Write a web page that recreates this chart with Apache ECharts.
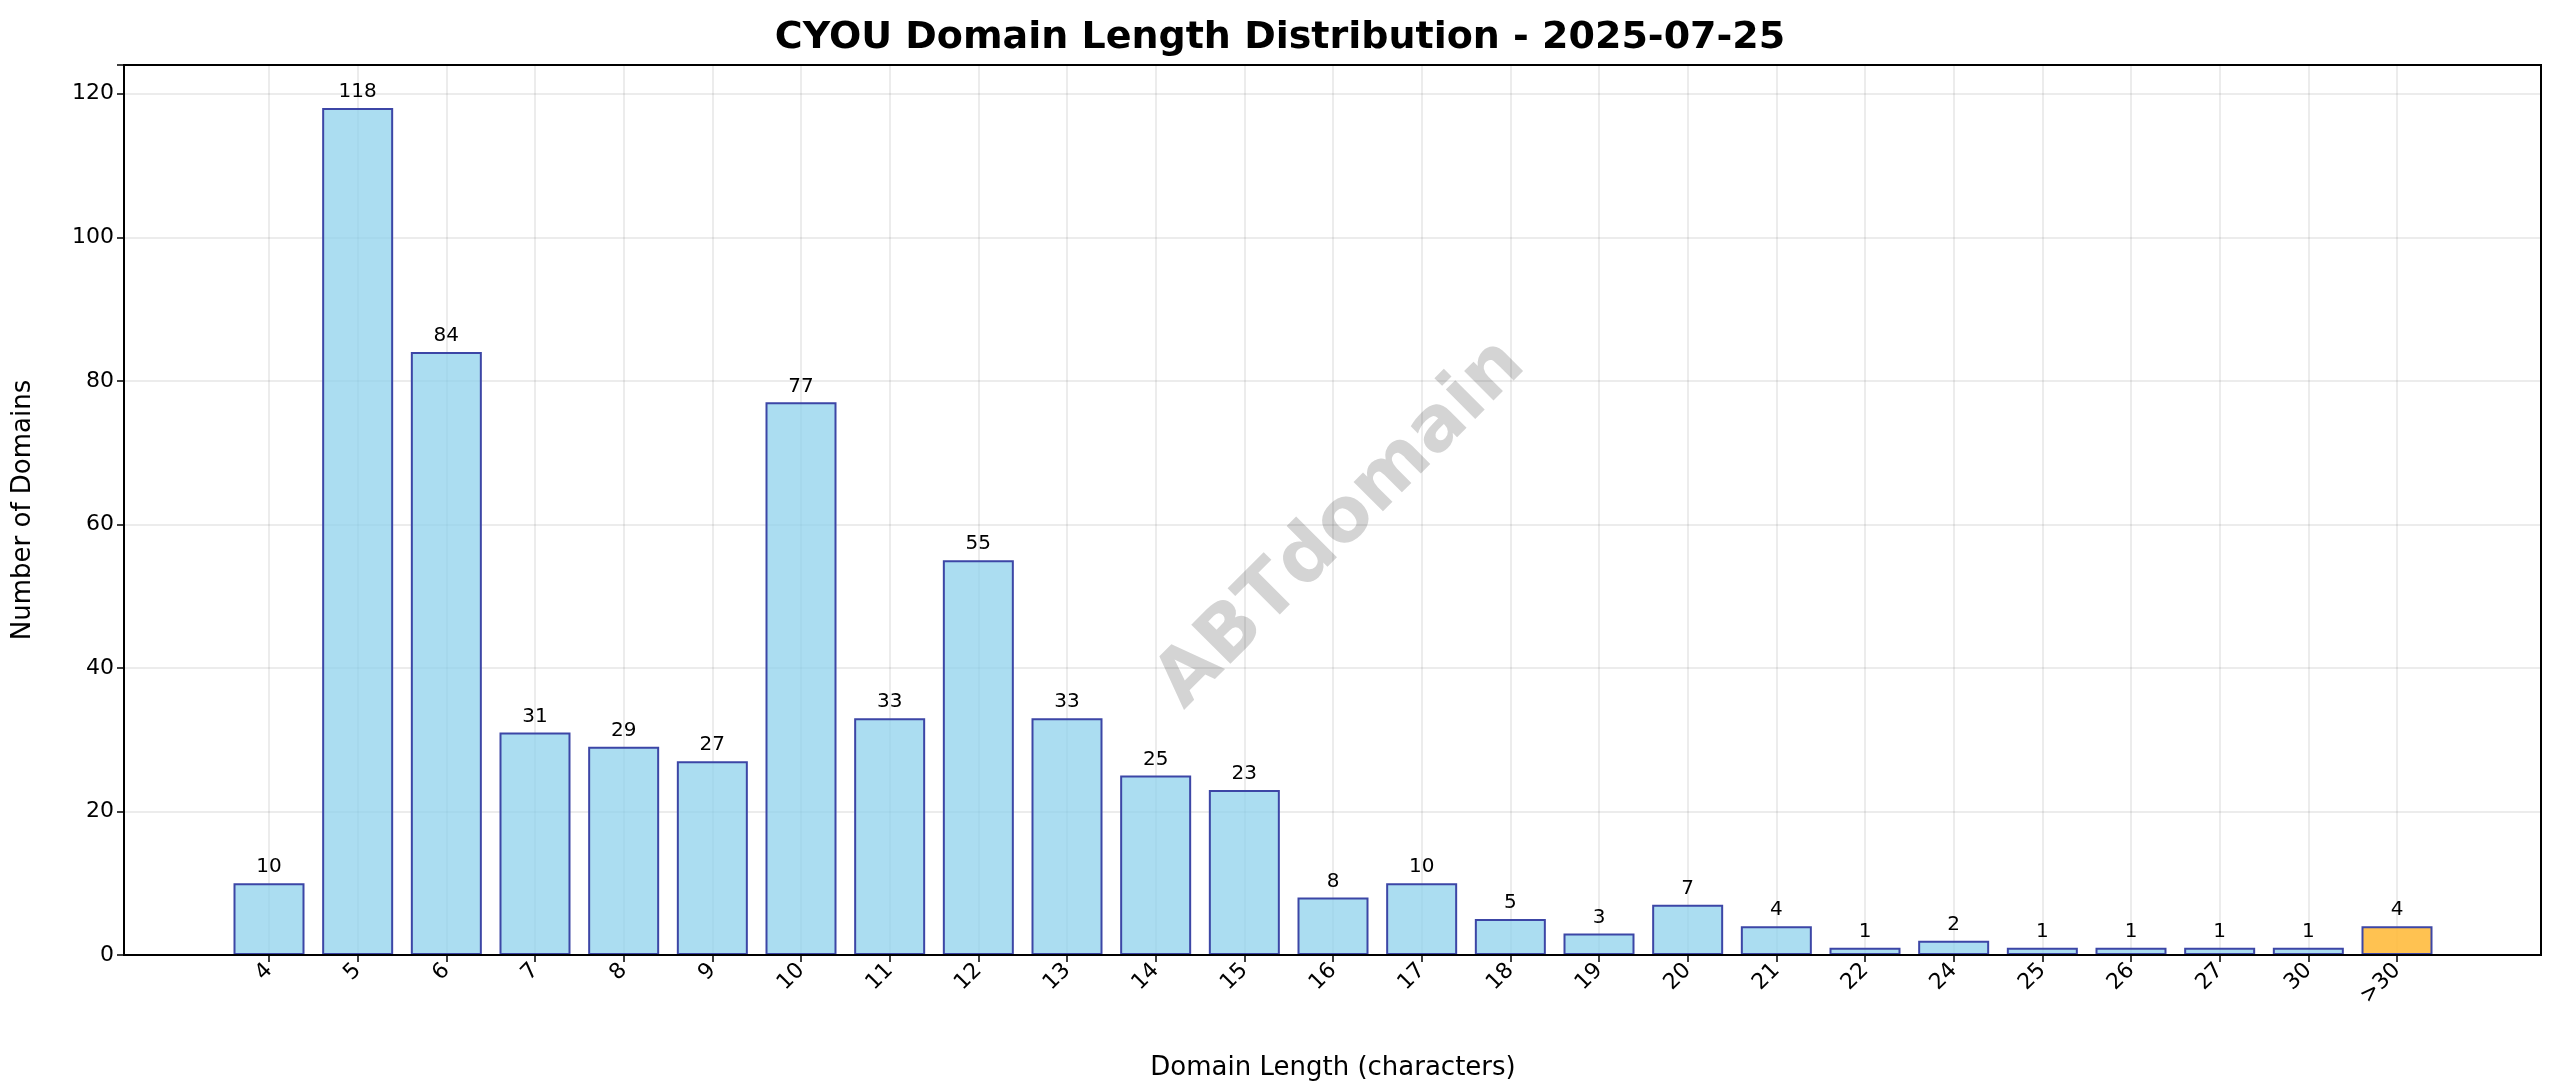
<!DOCTYPE html>
<html>
<head>
<meta charset="utf-8">
<script src="https://cdn.jsdelivr.net/npm/echarts@6/dist/echarts.min.js"></script>
<style>html,body{margin:0;padding:0;background:#fff}#container{width:2560px;height:1087px}</style>
</head>
<body>
<div id="container"></div>
<script>
var lengths = ['4', '5', '6', '7', '8', '9', '10', '11', '12', '13', '14', '15', '16', '17', '18', '19', '20', '21', '22', '24', '25', '26', '27', '30', '>30']
var counts = [10, 118, 84, 31, 29, 27, 77, 33, 55, 33, 25, 23, 8, 10, 5, 3, 7, 4, 1, 2, 1, 1, 1, 1, 4]
var yTicks = [0, 20, 40, 60, 80, 100, 120]

var barData = counts.map(function (v, i) {
    return {
        value: v,
        itemStyle: { color: lengths[i] == '>30' ? 'rgba(255,183,50,0.85)' : 'rgba(135,206,235,0.7)' }
    }
})

var myChart = echarts.init(document.getElementById('container'))
myChart.setOption({
    animation: false,
    textStyle: { fontFamily: 'DejaVu Sans' },
    title: {
        text: 'CYOU Domain Length Distribution - 2025-07-25',
        left: 'center',
        top: 14,
        textStyle: { fontSize: 38, fontWeight: 'bold', color: '#000', fontFamily: 'DejaVu Sans' }
    },
    grid: [
        { left: 269, right: 163, top: 65, bottom: 132 },
        { left: 124, right: 19, top: 65, bottom: 132 }
    ],
    graphic: [
        {
            type: 'rect', z: 10, silent: true,
            shape: { x: 124, y: 65, width: 2417, height: 890 },
            style: { fill: 'none', stroke: '#000', lineWidth: 2 }
        },
        {
            type: 'text', z: 0, left: 1143, top: 326, rotation: Math.PI / 4,
            style: {
                text: 'ABTdomain', x: 0, y: 0, align: 'center', verticalAlign: 'middle',
                fill: 'rgba(160,160,160,0.45)', font: 'bold 76px DejaVu Sans'
            }
        }
    ],
    xAxis: [{
        type: 'category',
        gridIndex: 0,
        data: lengths,
        boundaryGap: false,
        name: 'Domain Length (characters)',
        nameLocation: 'middle',
        nameGap: 100,
        nameTextStyle: { fontSize: 26, color: '#000' },
        axisLine: { show: false },
        axisTick: { show: true, length: 7, lineStyle: { color: '#000', width: 1.5 } },
        axisLabel: { rotate: 45, fontSize: 22, color: '#000', margin: 12 },
        splitLine: { show: true, lineStyle: { color: 'rgba(0,0,0,0.1)', width: 1.5 } }
    }, {
        type: 'value',
        gridIndex: 1,
        show: false,
        min: 0,
        max: 1
    }],
    yAxis: [{
        type: 'value',
        gridIndex: 0,
        min: 0,
        max: 124,
        interval: 20,
        name: 'Number of Domains',
        nameLocation: 'middle',
        nameGap: 88,
        nameTextStyle: { fontSize: 26, color: '#000' },
        offset: 145,
        axisLine: { show: false },
        axisTick: { show: true, length: 7, lineStyle: { color: '#000', width: 1.5 } },
        axisLabel: {
            fontSize: 22, color: '#000', margin: 10,
            formatter: function (v) { return yTicks.indexOf(v) >= 0 ? v : '' }
        },
        splitLine: { show: false }
    }, {
        type: 'value',
        gridIndex: 1,
        min: 0,
        max: 124,
        interval: 20,
        axisLine: { show: false },
        axisTick: { show: false },
        axisLabel: { show: false },
        splitLine: { show: true, lineStyle: { color: 'rgba(0,0,0,0.1)', width: 1.5 } }
    }],
    series: [{
        type: 'bar',
        xAxisIndex: 0,
        yAxisIndex: 0,
        data: barData,
        barWidth: 71,
        itemStyle: { borderColor: '#3c46a6', borderWidth: 2 },
        label: { show: true, position: 'top', distance: 6, fontSize: 20, color: '#000' }
    }]
})
</script>
</body>
</html>
